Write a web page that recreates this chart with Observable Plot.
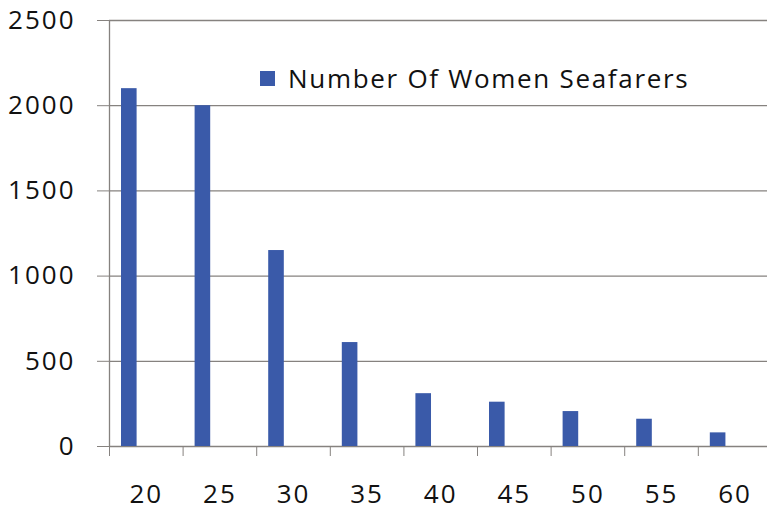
<!DOCTYPE html>
<html>
<head>
<meta charset="utf-8">
<script src="https://cdn.jsdelivr.net/npm/d3@7"></script>
<script src="https://cdn.jsdelivr.net/npm/@observablehq/plot@0.6"></script>
<style>
  html, body { margin: 0; padding: 0; background: #fff; }
  #wrap { position: relative; width: 767px; height: 511px; font-family: "Open Sans", sans-serif; color: #111; }
  #legend { position: absolute; left: 260px; top: 60px; display: flex; align-items: center; font-size: 26px; letter-spacing: 1.7px; white-space: nowrap; }
  #legend .sw { width: 15px; height: 15px; background: #3a5aa9; margin-right: 13px; }
</style>
</head>
<body>
<div id="wrap"><div id="legend"><span class="sw"></span><span>Number Of Women Seafarers</span></div></div>
<script>
const ages = [20, 25, 30, 35, 40, 45, 50, 55, 60];
const women = [2100, 2000, 1150, 610, 310, 260, 205, 160, 80];
const yTicks = [0, 500, 1000, 1500, 2000, 2500];
const seriesName = "Number Of Women Seafarers";

const data = ages.map((a, i) => ({age: a, value: women[i]}));
const boundaries = ages.map(a => a - 2.5);

const chart = Plot.plot({
  width: 767,
  height: 511,
  marginLeft: 109,
  marginRight: 0,
  marginTop: 20,
  marginBottom: 65,
  style: {fontFamily: "Open Sans, sans-serif", fontSize: "26px", letterSpacing: "2px", color: "#111", background: "transparent"},
  x: {type: "linear", domain: [17.5, 62.2]},
  y: {domain: [0, 2500]},
  marks: [
    Plot.ruleY(yTicks, {stroke: "#86827f", strokeWidth: 1.3}),
    Plot.ruleX([boundaries[0]], {stroke: "#86827f", strokeWidth: 1.3}),
    Plot.rectY(data, {x1: d => d.age - 2.5, x2: d => d.age + 2.5, y: "value", insetLeft: 12, insetRight: 46, fill: "#3a5aa9"}),
    Plot.axisY({ticks: yTicks, tickSize: 12, tickPadding: 22, stroke: "#86827f", label: null, tickFormat: d => String(d)}),
    Plot.axisX({ticks: boundaries, tickSize: 10, stroke: "#86827f", tickFormat: () => "", label: null}),
    Plot.axisX({ticks: ages, tickSize: 0, tickPadding: 38, label: null, tickFormat: d => String(d)})
  ]
});
document.getElementById("wrap").prepend(chart);
chart.style.position = "absolute";
chart.style.left = "0";
chart.style.top = "0";
</script>
</body>
</html>
